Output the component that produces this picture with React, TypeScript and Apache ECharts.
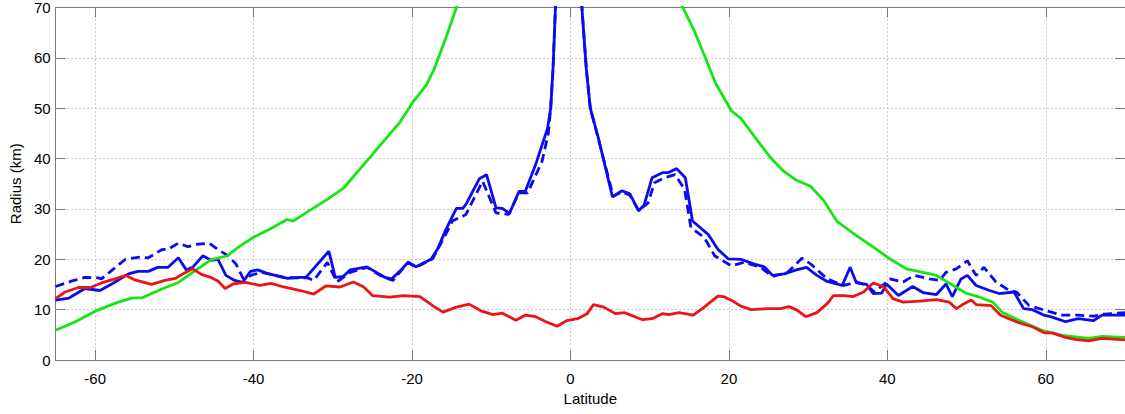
import React, { useEffect, useRef } from "react";
import * as echarts from "echarts";

const xTicks = [-60, -40, -20, 0, 20, 40, 60];

const greenLat = [-65, -62.5, -60, -57.1, -55.4, -54, -51.6, -49.5, -47.5, -45.4, -43.3, -42, -40, -37.8, -35.8, -35, -33, -30.7, -28.6, -26.1, -23.6, -21.5, -19.9, -18.2, -17.2, -15.7, -14.4, -13, -12, 12, 13, 14.2, 15.7, 16.9, 18.3, 20.3, 21.5, 23.2, 25.3, 26.9, 28.4, 30.3, 32.0, 33.6, 36.1, 38.6, 40.3, 42.4, 44.5, 46.2, 48.3, 49.9, 51.6, 53.3, 54.5, 56.6, 59.5, 62.1, 65.4, 67.1, 70];
const greenVal = [5.9, 7.6, 9.7, 11.5, 12.3, 12.4, 14.1, 15.4, 17.6, 19.9, 20.7, 22.3, 24.4, 26.1, 27.9, 27.6, 29.6, 31.9, 34.2, 38.8, 43.4, 47.3, 51.2, 54.6, 57.8, 64.1, 70, 77, 85, 85, 74, 70, 65.1, 60.5, 55, 49.5, 48.0, 44.4, 40.1, 37.5, 35.8, 34.5, 31.6, 27.6, 24.7, 22.0, 20.1, 18.1, 17.4, 16.8, 14.8, 13.3, 12.5, 11.5, 9.5, 7.9, 5.9, 4.9, 4.3, 4.7, 4.5];

const redLat = [-65, -63.8, -62.1, -60.6, -59.2, -57.5, -56.1, -55, -52.9, -51.2, -49.9, -48.7, -47.7, -46.6, -45.4, -44.5, -43.6, -42.6, -41, -39.2, -37.8, -36.2, -34.1, -32.4, -30.9, -29.1, -27.4, -26.1, -25, -22.8, -21.1, -19, -17.4, -16.1, -14.4, -12.8, -11.2, -9.8, -8.6, -6.9, -5.7, -4.4, -3.1, -1.7, -0.5, 0.9, 2.1, 2.9, 4.2, 5.7, 6.8, 9.1, 10.3, 11.6, 12.4, 13.7, 15.5, 16.8, 18.6, 19.3, 20.6, 21.5, 22.8, 24.9, 26.5, 27.6, 28.6, 29.7, 31.1, 32.4, 33.2, 34.5, 35.7, 37.0, 38.2, 39.5, 40.7, 42.0, 44.1, 46.2, 47.8, 48.7, 49.5, 50.6, 51.2, 53.1, 54.3, 56.6, 58.3, 59.8, 60.8, 62.5, 63.7, 65.4, 67.1, 70];
const redVal = [12.2, 13.5, 14.4, 14.4, 15.3, 16.1, 16.8, 15.9, 15.0, 15.8, 16.2, 17.3, 18.1, 17.0, 16.4, 15.7, 14.2, 15.1, 15.4, 14.8, 15.2, 14.5, 13.8, 13.1, 14.7, 14.5, 15.5, 14.5, 12.8, 12.5, 12.8, 12.6, 10.8, 9.5, 10.5, 11.1, 9.7, 9.0, 9.3, 7.9, 8.9, 8.6, 7.6, 6.7, 7.8, 8.2, 9.2, 11.0, 10.5, 9.2, 9.4, 8.0, 8.2, 9.2, 9.0, 9.4, 8.9, 10.4, 12.7, 12.6, 11.6, 10.7, 10.0, 10.2, 10.2, 10.6, 9.9, 8.6, 9.4, 11.2, 12.8, 12.8, 12.6, 13.5, 15.3, 14.6, 12.2, 11.5, 11.7, 12.0, 11.5, 10.2, 11.0, 11.9, 11.0, 10.8, 8.9, 7.4, 6.6, 5.4, 5.4, 4.5, 4.1, 3.8, 4.3, 4.0];

const blueLat = [-65, -63.3, -61.3, -59.4, -57.9, -55.8, -54.6, -53.3, -52.1, -50.8, -49.5, -48.5, -47.7, -46.4, -45.4, -44.5, -43.5, -42.4, -41.4, -40.4, -39.5, -38.3, -35.7, -34.1, -33.4, -30.5, -29.7, -28.7, -27.8, -25.7, -24.5, -23.4, -22.6, -21.5, -20.5, -19.5, -17.6, -16.8, -15.7, -14.4, -13.6, -13.2, -11.5, -10.6, -9.4, -8.6, -7.7, -6.5, -5.7, -4.4, -2.9, -2.5, -2.2, -1.9, -1.5, 1.0, 1.44, 2.0, 2.5, 3.5, 5.3, 6.5, 7.5, 8.6, 9.3, 10.3, 11.6, 12.3, 13.4, 14.5, 15.4, 17.4, 18.6, 19.9, 21.5, 23.1, 24.5, 25.5, 27.0, 28.5, 29.8, 31.1, 32.4, 34.3, 35.3, 36.1, 37.4, 38.2, 39.3, 39.9, 41.4, 43.2, 44.5, 46.2, 47.4, 48.2, 49.3, 50.1, 51.2, 52.9, 54.1, 56.0, 57.2, 58.3, 59.8, 60.8, 62.5, 64.1, 66.0, 67.1, 70];
const blueVal = [11.9, 12.3, 14.2, 13.8, 15.1, 17.1, 17.6, 17.6, 18.4, 18.4, 20.3, 17.9, 18.4, 20.7, 19.8, 20.0, 16.8, 15.8, 15.4, 17.6, 17.9, 17.2, 16.2, 16.4, 16.4, 21.6, 16.4, 16.6, 17.9, 18.5, 17.4, 16.4, 16.1, 17.7, 19.4, 18.5, 20.0, 22.0, 26.0, 30.1, 30.1, 30.9, 36.0, 36.8, 30.2, 30.1, 29.1, 33.5, 33.5, 38.8, 46.0, 50, 58, 70, 85, 85, 70, 57.8, 50.0, 44.2, 32.4, 33.6, 33.0, 29.6, 30.8, 36.2, 37.2, 37.2, 38.0, 36.2, 27.6, 24.9, 22.0, 20.1, 20.0, 19.1, 18.5, 16.8, 17.1, 17.9, 18.4, 16.8, 15.6, 14.8, 18.4, 15.3, 15.0, 13.2, 13.3, 15.1, 12.8, 14.6, 13.4, 13.0, 15.1, 12.6, 16.1, 16.8, 14.8, 13.8, 13.2, 13.5, 10.2, 10.0, 8.9, 8.5, 7.6, 8.2, 7.8, 8.9, 8.9];

const dashLat = [-65, -62.9, -61.3, -59.6, -59.2, -57.9, -56.2, -54.6, -53.3, -51.6, -50.8, -49.5, -48.3, -47, -45.6, -44.5, -43.3, -42.2, -41.3, -40.2, -39, -36.2, -33.2, -32.4, -30.7, -29.5, -27.8, -25.7, -23.6, -22.4, -20.5, -19.5, -17.4, -16.4, -14.9, -13.2, -11.1, -9.4, -7.8, -6.5, -5.4, -3.6, -2.8, -2.5, -2.2, -1.9, -1.5, 1.0, 1.44, 2.0, 2.5, 3.5, 5.4, 6.5, 7.5, 8.6, 9.8, 10.6, 11.9, 13.2, 14.4, 15.2, 16.9, 18.2, 20.3, 21.9, 24.0, 25.5, 27.4, 29.2, 30.3, 32.4, 34.5, 36.1, 37.4, 38.4, 39.9, 40.3, 42.0, 43.4, 45.3, 46.6, 47.4, 48.7, 50.1, 51.2, 52.2, 53.7, 55.4, 56.3, 57.9, 59.8, 62.1, 64.1, 66.0, 67.4, 70];
const dashVal = [14.6, 15.7, 16.4, 16.3, 16.1, 17.8, 20.0, 20.4, 20.3, 21.9, 22.0, 23.2, 22.5, 23.0, 23.2, 21.9, 20.8, 19.0, 16.1, 16.9, 17.4, 16.4, 16.3, 15.8, 19.4, 15.5, 17.4, 18.4, 16.4, 15.8, 19.4, 18.4, 20.1, 23.0, 27.6, 28.9, 35.5, 29.2, 28.9, 33.2, 33.2, 39.4, 45.0, 50, 58, 70, 85, 85, 70, 57.8, 50.0, 44.0, 32.5, 33.4, 32.7, 29.7, 31.2, 35.2, 36.2, 36.8, 33.9, 26.3, 24.3, 20.7, 18.7, 19.4, 18.4, 16.6, 17.4, 20.2, 19.1, 16.1, 14.8, 15.5, 14.8, 13.5, 15.5, 16.1, 15.5, 16.8, 16.1, 15.8, 17.4, 18.1, 19.7, 16.8, 18.4, 15.5, 13.8, 13.5, 10.8, 9.9, 8.9, 8.9, 8.7, 9.1, 9.4];

const zip = (a: number[], b: number[]) => a.map((v, i) => [v, b[i]]);

const FONT = "'Liberation Sans', Arial, sans-serif";
const AXIS_COLOR = "#7a7a7a";

export default function App() {
  const ref = useRef<HTMLDivElement>(null);
  useEffect(() => {
    if (!ref.current) return;
    const chart = echarts.init(ref.current, undefined, { renderer: "svg" });
    const axisLine = { show: true, onZero: false, lineStyle: { color: AXIS_COLOR, width: 1 } };
    const tick = { show: true, inside: true, length: 10, lineStyle: { color: AXIS_COLOR, width: 1 } };
    const label = { color: "#000", fontSize: 15, fontFamily: FONT };
    const split = { show: true, lineStyle: { type: [1, 3], color: "#9a9a9a", width: 1 } };
    chart.setOption({
      animation: false,
      backgroundColor: "#fff",
      grid: { left: 54, top: 5, right: -5, bottom: 54, containLabel: false },
      xAxis: [
        {
          type: "value", min: -65, max: 70, position: "bottom",
          axisLine, axisTick: { ...tick, customValues: xTicks },
          axisLabel: { ...label, margin: 11, customValues: xTicks },
          splitLine: split,
          name: "Latitude", nameLocation: "middle", nameGap: 31,
          nameTextStyle: { color: "#000", fontSize: 15, fontFamily: FONT },
        },
        {
          type: "value", min: -65, max: 70, position: "top",
          axisLine, axisTick: { ...tick, customValues: xTicks },
          axisLabel: { show: false, customValues: xTicks }, splitLine: { show: false },
        },
      ],
      yAxis: [
        {
          type: "value", min: 0, max: 70, interval: 10, position: "left",
          axisLine, axisTick: tick,
          axisLabel: { ...label, margin: 5 },
          splitLine: split,
          name: "Radius (km)", nameLocation: "middle", nameGap: 28,
          nameTextStyle: { color: "#000", fontSize: 15, fontFamily: FONT },
        },
        {
          type: "value", min: 0, max: 70, interval: 10, position: "right",
          axisLine, axisTick: tick, axisLabel: { show: false }, splitLine: { show: false },
        },
      ],
      series: [
        { type: "line", name: "dashed", data: zip(dashLat, dashVal), showSymbol: false, clip: true, z: 2,
          lineStyle: { color: "#0b0bf0", width: 2.8, type: [9, 5] } },
        { type: "line", name: "solid", data: zip(blueLat, blueVal), showSymbol: false, clip: true, z: 3,
          lineStyle: { color: "#0b0bf0", width: 2.8 } },
        { type: "line", name: "green", data: zip(greenLat, greenVal), showSymbol: false, clip: true, z: 4,
          lineStyle: { color: "#14e614", width: 2.8 } },
        { type: "line", name: "red", data: zip(redLat, redVal), showSymbol: false, clip: true, z: 5,
          lineStyle: { color: "#ee1414", width: 2.8 } },
      ],
    });
    return () => chart.dispose();
  }, []);
  return <div ref={ref} style={{ position: "fixed", left: 0, top: 0, width: 1125, height: 414 }} />;
}
